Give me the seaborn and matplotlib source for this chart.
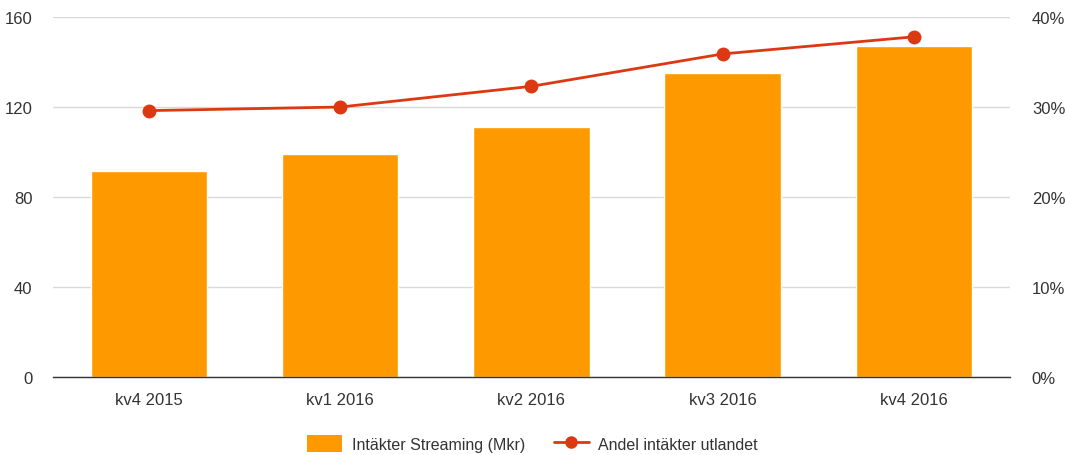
import matplotlib
matplotlib.use("Agg")
import matplotlib.pyplot as plt
import seaborn as sns
import pandas as pd
from matplotlib.patches import Patch
from matplotlib.lines import Line2D
from matplotlib.ticker import FuncFormatter

categories = ["kv4 2015", "kv1 2016", "kv2 2016", "kv3 2016", "kv4 2016"]
streaming = [91.4, 99.1, 111.1, 135.1, 147.1]
andel = [29.6, 30.0, 32.3, 35.9, 37.8]

bar_label = "Intäkter Streaming (Mkr)"
line_label = "Andel intäkter utlandet"

sns.set_theme(style="white")
plt.rcParams['font.family'] = ['Liberation Sans', 'DejaVu Sans']

BAR = "#FF9900"
LINE = "#DC3912"
TXT = "#333333"

df = pd.DataFrame({"kv": categories, "streaming": streaming, "andel": andel})

fig = plt.figure(figsize=(10.65, 4.56), dpi=100)
ax = fig.add_axes([0.05, 0.171, 0.898, 0.7895])

sns.barplot(data=df, x="kv", y="streaming", color=BAR, saturation=1, width=0.61, ax=ax, zorder=2)
ax.set_ylim(0, 160)
ax.set_yticks([0, 40, 80, 120, 160])
ax.set_xlim(-0.5, 4.5)
ax.grid(axis="y", color="#d9d9d9", linewidth=1, zorder=0)
ax.set_axisbelow(True)
for s in ["top", "right", "left"]:
    ax.spines[s].set_visible(False)
ax.spines["bottom"].set_color("#333333")
ax.spines["bottom"].set_linewidth(1)
ax.set_xlabel("")
ax.set_ylabel("")
ax.tick_params(axis="both", length=0, labelsize=12, colors=TXT, pad=11)
ax.tick_params(axis="y", pad=15)

ax2 = ax.twinx()
sns.pointplot(data=df, x="kv", y="andel", color=LINE, markers="o", linestyles="-",
              ax=ax2, markersize=8.5, linewidth=2)
ax2.set_ylim(0, 40)
ax2.set_yticks([0, 10, 20, 30, 40])
ax2.yaxis.set_major_formatter(FuncFormatter(lambda v, p: f"{int(v)}%"))
ax2.set_xlim(-0.5, 4.5)
for s in ["top", "right", "left", "bottom"]:
    ax2.spines[s].set_visible(False)
ax2.set_ylabel("")
ax2.set_xlabel("")
ax2.tick_params(axis="y", length=0, labelsize=12, colors=TXT, pad=16)

handles = [Patch(facecolor=BAR, edgecolor="none", label=bar_label),
           Line2D([0], [0], color=LINE, lw=2, marker="o", markersize=8, label=line_label)]
fig.legend(handles=handles, loc="center", bbox_to_anchor=(0.5, 0.025), ncol=2, frameon=False,
           fontsize=11.5, labelcolor=TXT, handlelength=2.2, handleheight=1.2, columnspacing=1.8,
           handletextpad=0.6)

fig.savefig("out.png", dpi=100)
